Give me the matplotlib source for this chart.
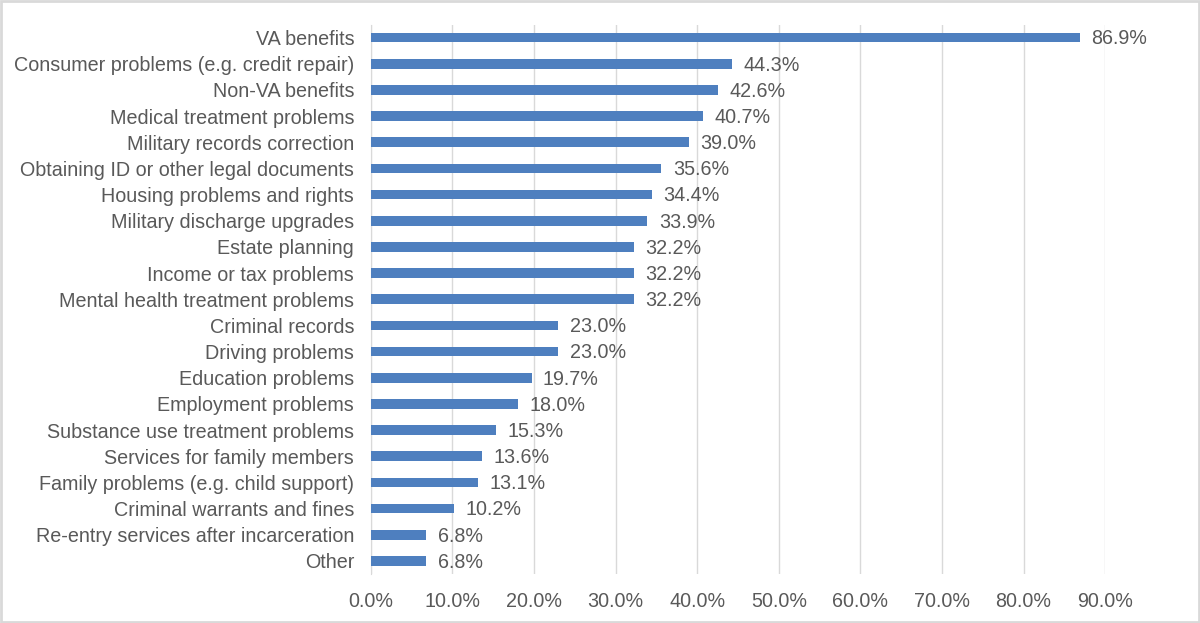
import matplotlib.pyplot as plt
import numpy as np
from matplotlib.patches import Rectangle

categories = [
    "VA benefits",
    "Consumer problems (e.g. credit repair)",
    "Non-VA benefits",
    "Medical treatment problems",
    "Military records correction",
    "Obtaining ID or other legal documents",
    "Housing problems and rights",
    "Military discharge upgrades",
    "Estate planning",
    "Income or tax problems",
    "Mental health treatment problems",
    "Criminal records",
    "Driving problems",
    "Education problems",
    "Employment problems",
    "Substance use treatment problems",
    "Services for family members",
    "Family problems (e.g. child support)",
    "Criminal warrants and fines",
    "Re-entry services after incarceration",
    "Other",
]
values = [86.9, 44.3, 42.6, 40.7, 39.0, 35.6, 34.4, 33.9, 32.2, 32.2, 32.2,
          23.0, 23.0, 19.7, 18.0, 15.3, 13.6, 13.1, 10.2, 6.8, 6.8]
xticks = np.arange(0, 100, 10)

plt.rcParams['font.family'] = ['Liberation Sans', 'DejaVu Sans']
text_color = '#595959'
fs = 14.2

fig = plt.figure(figsize=(12, 6.23), dpi=100)
ax = fig.add_axes([0.309, 0.0786, 0.612, 0.882])

y = np.arange(len(categories))
ax.barh(y, values, height=0.37, color='#4e7fbf', zorder=3)
for yi, v in zip(y, values):
    ax.text(v + 1.4, yi + 0.05, f"{v:.1f}%", va='center', ha='left',
            fontsize=fs, color=text_color)

ax.set_ylim(len(categories) - 0.5, -0.5)
ax.set_xlim(0, 90)
ax.set_yticks(y)
ax.set_yticklabels(categories, fontsize=fs, color=text_color)
ax.set_xticks(xticks)
ax.set_xticklabels([f"{t:.1f}%" for t in xticks], fontsize=fs, color=text_color)
ax.tick_params(axis='both', length=0)
ax.tick_params(axis='y', pad=12)
ax.tick_params(axis='x', pad=13)
ax.grid(axis='x', color='#d9d9d9', linewidth=1, zorder=0)
for s in ['top', 'right', 'bottom']:
    ax.spines[s].set_visible(False)
ax.spines['left'].set_color('#d9d9d9')

fig.patches.append(Rectangle((0.001, 0.002), 0.998, 0.996, transform=fig.transFigure,
                             fill=False, edgecolor='#d9d9d9', linewidth=2))

fig.savefig('out.png', dpi=100)
